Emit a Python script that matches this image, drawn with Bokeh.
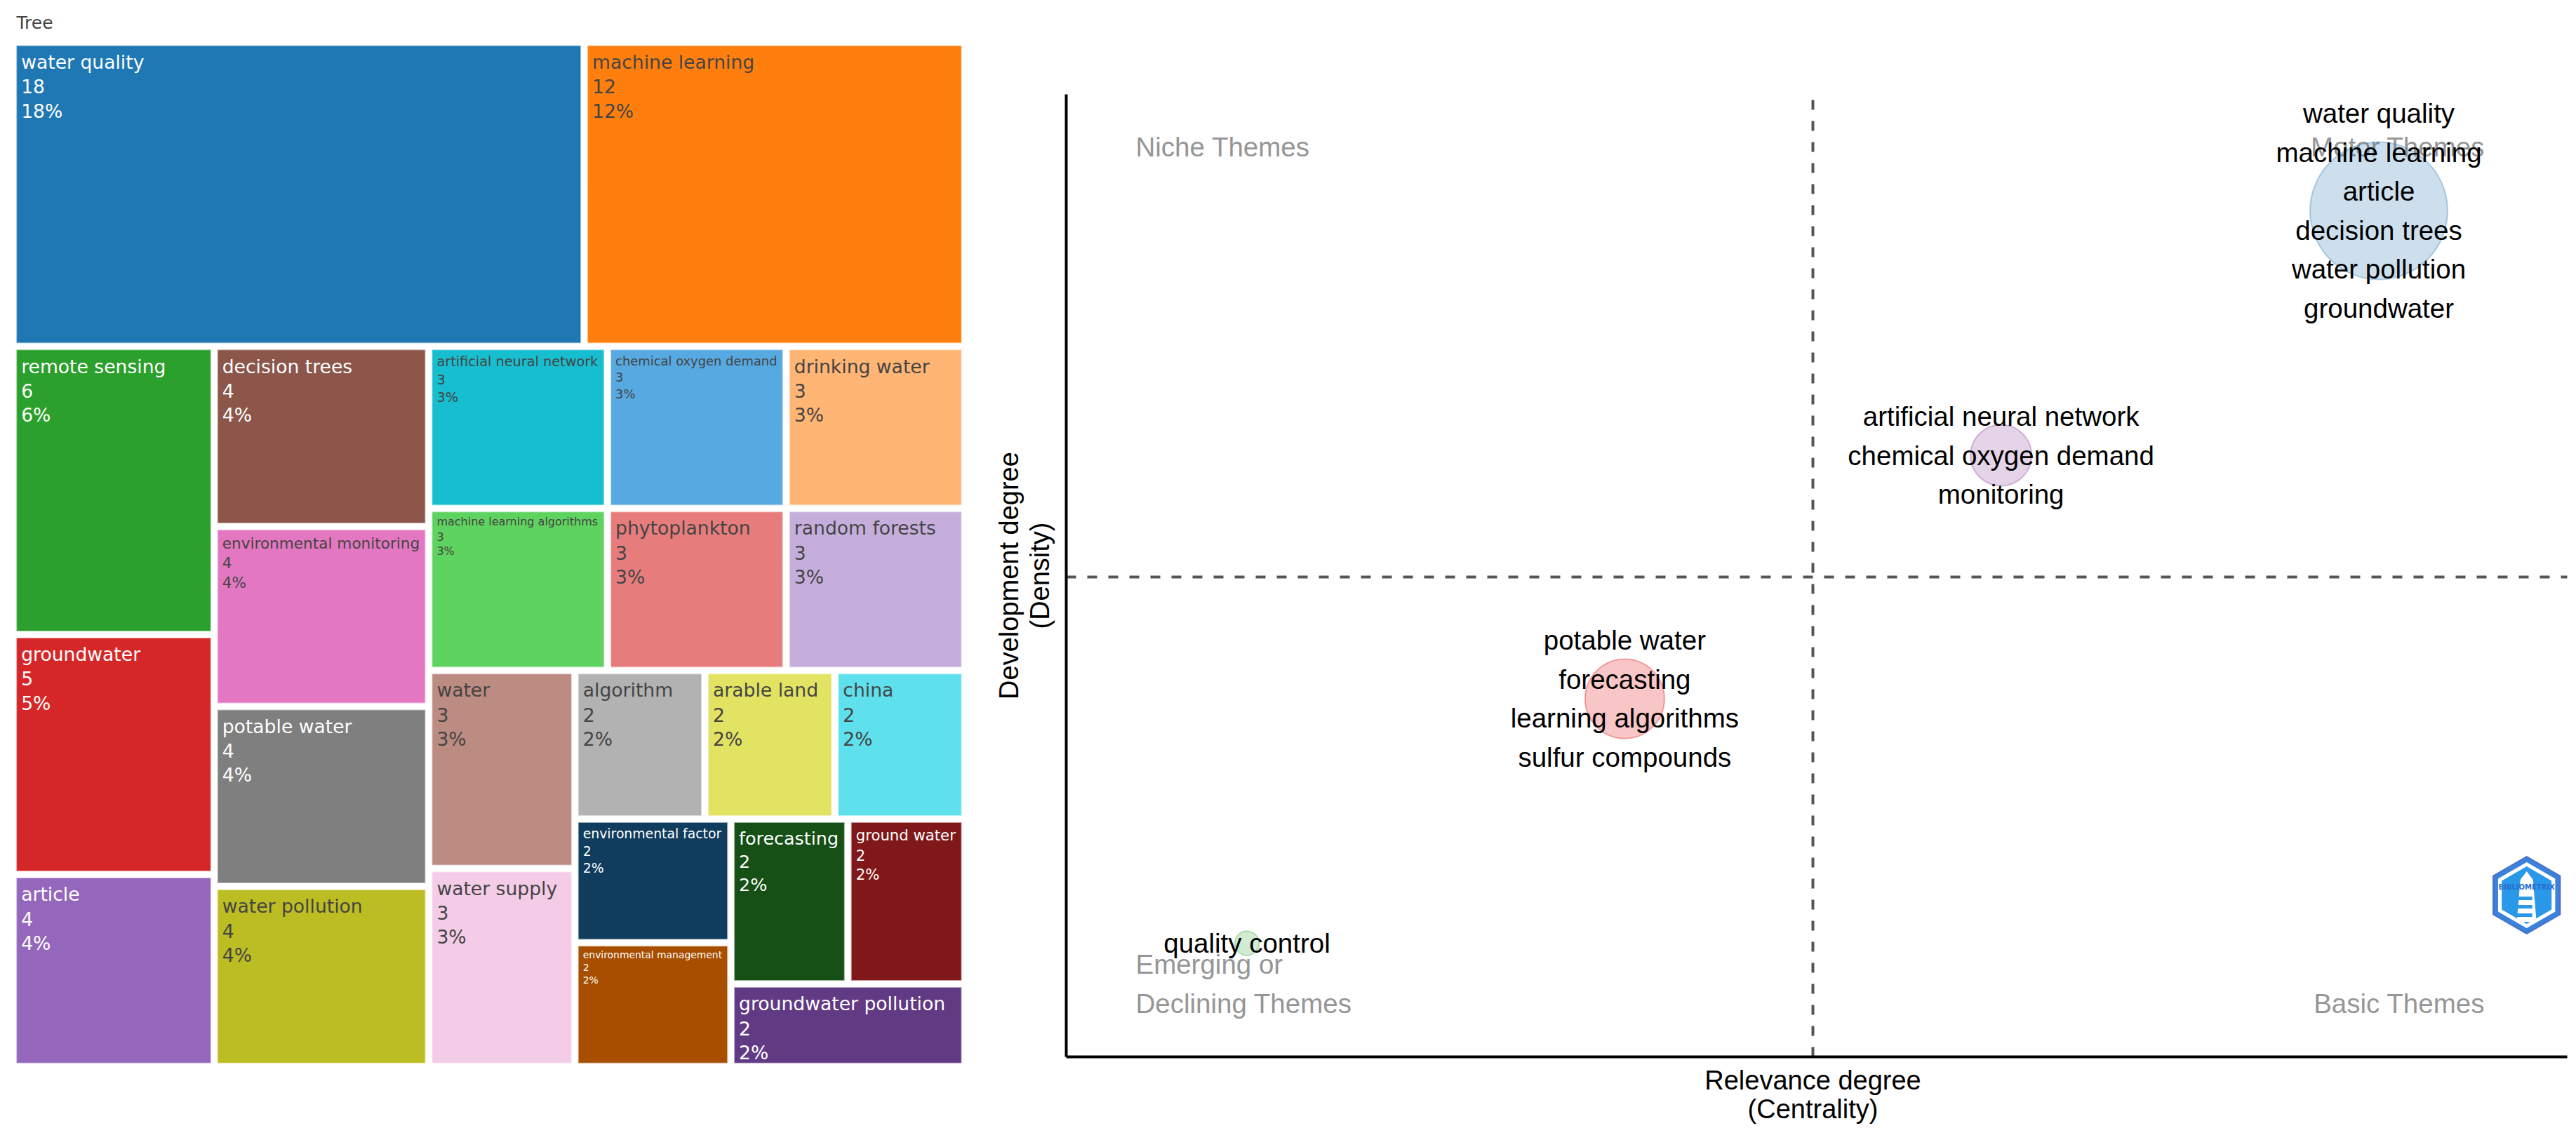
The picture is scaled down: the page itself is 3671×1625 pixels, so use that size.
import math
import colorsys
from bokeh.plotting import figure
from bokeh.models import ColumnDataSource, Range1d
from bokeh.layouts import row
from bokeh.embed import file_html
from bokeh.resources import INLINE
from bokeh.core.properties import value

# ---------------- data ----------------
tree_title = "Tree"
tree_labels = ["water quality", "machine learning", "remote sensing", "groundwater",
               "article", "decision trees", "environmental monitoring", "potable water",
               "water pollution", "artificial neural network", "chemical oxygen demand",
               "drinking water", "machine learning algorithms", "phytoplankton",
               "random forests", "water", "water supply", "algorithm", "arable land",
               "china", "environmental factor", "environmental management",
               "forecasting", "ground water", "groundwater pollution"]
tree_values = [18, 12, 6, 5, 4, 4, 4, 4, 4, 3, 3, 3, 3, 3, 3, 3, 3, 2, 2, 2, 2, 2, 2, 2, 2]

cluster_centrality = [8.79, 6.26, 3.74, 1.21]
cluster_density = [8.79, 6.25, 3.72, 1.18]
cluster_freq = [96, 19, 32, 3]
cluster_words = [
    ["water quality", "machine learning", "article", "decision trees", "water pollution", "groundwater"],
    ["artificial neural network", "chemical oxygen demand", "monitoring"],
    ["potable water", "forecasting", "learning algorithms", "sulfur compounds"],
    ["quality control"],
]
quadrant_names = ["Niche Themes", "Motor Themes", "Emerging or", "Declining Themes", "Basic Themes"]
x_title = ["Relevance degree", "(Centrality)"]
y_title = ["Development degree", "(Density)"]

# ---------------- styles ----------------
colorway = ["#1f77b4", "#ff7f0e", "#2ca02c", "#d62728", "#9467bd",
            "#8c564b", "#e377c2", "#7f7f7f", "#bcbd22", "#17becf"]
cluster_colors = ["#377EB8", "#984EA3", "#E41A1C", "#4DAF4A"]


def hex2rgb(h):
    h = h.lstrip("#")
    return tuple(int(h[i:i + 2], 16) for i in (0, 2, 4))


def shift_light(c, amt):
    r, g, b = [v / 255 for v in hex2rgb(c)]
    hh, ll, ss = colorsys.rgb_to_hls(r, g, b)
    ll = min(1, max(0, ll + amt))
    r, g, b = colorsys.hls_to_rgb(hh, ll, ss)
    return "#%02x%02x%02x" % (round(r * 255), round(g * 255), round(b * 255))


ext_colors = colorway + [shift_light(c, 0.2) for c in colorway] + [shift_light(c, -0.2) for c in colorway]


def text_color(c):
    r, g, b = hex2rgb(c)
    return "white" if (r * 299 + g * 587 + b * 114) / 1000 < 128 else "#444444"


W = {' ': .318, '%': .950, 'a': .613, 'b': .635, 'c': .550, 'd': .635, 'e': .615, 'f': .352,
     'g': .635, 'h': .634, 'i': .278, 'j': .278, 'k': .579, 'l': .278, 'm': .974, 'n': .634,
     'o': .612, 'p': .635, 'q': .635, 'r': .411, 's': .521, 't': .392, 'u': .634, 'v': .592,
     'w': .818, 'x': .592, 'y': .592, 'z': .525}


def tw(s, fs):
    return sum(W.get(ch, .636) for ch in s) * fs


def squarify(vals, x0, y0, x1, y1, ratio=1.0):
    n = len(vals)
    rects = [None] * n
    i0 = i1 = 0
    total = float(sum(vals))
    while i0 < n:
        dx, dy = x1 - x0, y1 - y0
        s = vals[i1]
        i1 += 1
        mn = mx = s
        alpha = max(dy / dx, dx / dy) / (total * ratio)
        beta = s * s * alpha
        min_ratio = max(mx / beta, beta / mn)
        while i1 < n:
            nv = vals[i1]
            s += nv
            mn = min(mn, nv)
            mx = max(mx, nv)
            beta = s * s * alpha
            nr = max(mx / beta, beta / mn)
            if nr > min_ratio:
                s -= nv
                break
            min_ratio = nr
            i1 += 1
        idx = range(i0, i1)
        if dx < dy:
            ny = y0 + dy * s / total
            xx = x0
            for i in idx:
                w = dx * vals[i] / s
                rects[i] = (xx, y0, xx + w, ny)
                xx += w
            y0 = ny
        else:
            nx = x0 + dx * s / total
            yy = y0
            for i in idx:
                h = dy * vals[i] / s
                rects[i] = (x0, yy, nx, yy + h)
                yy += h
            x0 = nx
        total -= s
        i0 = i1
    return rects


# ---------------- treemap figure (units = page pixels) ----------------
P1W, PH = 1392, 1616
p1 = figure(width=P1W, height=PH, x_range=Range1d(0, P1W), y_range=Range1d(PH, 0),
            output_backend="svg", toolbar_location=None, x_axis_type=None, y_axis_type=None,
            min_border=0)
p1.outline_line_color = None
p1.grid.visible = False

pad = 4.5
rects = squarify(tree_values, 18.2, 59.7, 1374.5, 1519.7)
tot = sum(tree_values)
L, R, T, B, FC = [], [], [], [], []
tx, ty, tt, tf, tc = [], [], [], [], []
base = 26.6
for i, (a, b, c, d) in enumerate(rects):
    a, b, c, d = a + pad, b + pad, c - pad, d - pad
    L.append(a); R.append(c); T.append(b); B.append(d)
    col = ext_colors[i % len(ext_colors)]
    FC.append(col)
    lines = [tree_labels[i], str(tree_values[i]), "%d%%" % round(100 * tree_values[i] / tot)]
    wmax = max(tw(s, base) for s in lines)
    sc = min(1.0, (c - a - 15) / wmax, (d - b - 4) / (3 * 1.3 * base))
    fs = base * sc
    for k, s in enumerate(lines):
        tx.append(a + 7)
        ty.append(b + fs * (0.89 + 1.31 * k))
        tt.append(s)
        tf.append("%.1fpx" % fs)
        tc.append(text_color(col))

p1.quad(left=L, right=R, top=T, bottom=B, fill_color=FC, line_color="white",
        line_alpha=0.55, line_width=2)
p1.text(x=tx, y=ty, text=tt, text_font_size=tf, text_color=tc,
        text_font=value("DejaVu Sans"), text_baseline="middle", text_align="left")
p1.text(x=[23], y=[32], text=[tree_title], text_font_size="25px", text_color="#444444",
        text_font=value("DejaVu Sans"), text_baseline="middle")

# ---------------- thematic map figure ----------------
P2W = 2268
# visible plot area inside the canvas (pixels from canvas edges)
AL, AR, AT, AB = 127, 13, 134, 110
FW, FH = P2W - AL - AR, PH - AT - AB
x0r, x1r, y0r, y1r = 0.0, 10.0, 0.0, 10.0
pxx = FW / (x1r - x0r)
pxy = FH / (y1r - y0r)

p2 = figure(width=P2W, height=PH,
            x_range=Range1d(x0r - AL / pxx, x1r + AR / pxx),
            y_range=Range1d(y0r - AB / pxy, y1r + AT / pxy),
            output_backend="svg", toolbar_location=None, x_axis_type=None, y_axis_type=None,
            min_border=0)
p2.outline_line_color = None
p2.grid.visible = False

dx, dy = x1r - x0r, y1r - y0r
xm = sum(cluster_centrality) / len(cluster_centrality)
ym = sum(cluster_density) / len(cluster_density)
xend = x1r + 11 / pxx

# dashed reference lines at the means
p2.segment(x0=[xm, x0r], y0=[y0r, ym], x1=[xm, xend], y1=[y1r, ym],
           line_color="#555555", line_width=4, line_dash="14 16")

# axis lines
p2.segment(x0=[x0r, x0r], y0=[y0r, y0r], x1=[x0r, xend], y1=[y1r, y0r],
           line_color="black", line_width=4)

# axis titles
p2.text(x=[x0r + dx / 2] * 2, y=[y0r - 33 / pxy, y0r - 74 / pxy], text=x_title,
        text_align="center", text_baseline="middle",
        text_font=value("Liberation Sans"), text_font_size="38px", text_color="black")
p2.text(x=[x0r - 82 / pxx, x0r - 38 / pxx], y=[y0r + dy / 2] * 2, text=y_title,
        angle=math.pi / 2, text_align="center", text_baseline="middle",
        text_font=value("Liberation Sans"), text_font_size="38px", text_color="black")

# quadrant names
qx = [x0r + 0.0465 * dx, x0r + 0.95 * dx, x0r + 0.0465 * dx, x0r + 0.0465 * dx, x0r + 0.95 * dx]
qy = [y0r + 0.945 * dy, y0r + 0.945 * dy, y0r + 0.0554 * dy + 55.5 / pxy,
      y0r + 0.0554 * dy, y0r + 0.0554 * dy]
qa = ["left", "right", "left", "left", "right"]
p2.text(x=qx, y=qy, text=quadrant_names, text_align=qa, text_baseline="middle",
        text_font=value("Liberation Sans"), text_font_size="38.5px", text_color="#969696")

# bubbles
bsrc = ColumnDataSource(dict(x=cluster_centrality, y=cluster_density,
                             size=[20 * math.sqrt(f) for f in cluster_freq],
                             color=cluster_colors))
p2.scatter(x="x", y="y", size="size", marker="circle", source=bsrc, fill_color="color",
           fill_alpha=0.25, line_color="color", line_alpha=0.35, line_width=2)

# labels
lx, ly, lt = [], [], []
for cx, cy, words in zip(cluster_centrality, cluster_density, cluster_words):
    n = len(words)
    for i, w in enumerate(words):
        lx.append(cx)
        ly.append(cy - (i - (n - 1) / 2) * 55.5 / pxy)
        lt.append(w)
p2.text(x=lx, y=ly, text=lt, text_align="center", text_baseline="middle",
        text_font=value("Liberation Sans"), text_font_size="38.5px", text_color="black")

# logo (decoration)
lcx, lcy = x0r + 0.978 * dx, y0r + 0.168 * dy


def hexagon(rpx):
    xs, ys = [], []
    for k in range(6):
        a = math.radians(90 + 60 * k)
        xs.append(lcx + rpx * math.cos(a) / pxx)
        ys.append(lcy + rpx * math.sin(a) / pxy)
    return xs, ys


hx, hy = hexagon(55)
p2.patch(hx, hy, fill_color="#3a82da", line_color="#4a6fcb", line_width=2)
hx, hy = hexagon(47)
p2.patch(hx, hy, fill_color="white", line_color=None)
hx, hy = hexagon(41)
p2.patch(hx, hy, fill_color="#2a98e8", line_color=None)
p2.patch([lcx - 9 / pxx, lcx + 9 / pxx, lcx + 14 / pxx, lcx - 14 / pxx],
         [lcy + 22 / pxy, lcy + 22 / pxy, lcy - 38 / pxy, lcy - 38 / pxy],
         fill_color="white", line_color=None)
p2.patch([lcx - 9 / pxx, lcx + 9 / pxx, lcx],
         [lcy + 22 / pxy, lcy + 22 / pxy, lcy + 34 / pxy], fill_color="white", line_color=None)
for k in range(3):
    yy = lcy - (2 + 12 * k) / pxy
    p2.patch([lcx - 14 / pxx, lcx + 8 / pxx, lcx + 8 / pxx, lcx - 14 / pxx],
             [yy, yy, yy - 5 / pxy, yy - 5 / pxy], fill_color="#2a98e8", line_color=None)
p2.text(x=[lcx], y=[lcy + 12 / pxy], text=["BIBLIOMETRIX"], text_align="center",
        text_baseline="middle", text_font=value("DejaVu Sans"), text_font_size="10px",
        text_font_style="bold", text_color="#2a6ccf")

layout = row(p1, p2)
open("out.html", "w").write(file_html(layout, INLINE))
